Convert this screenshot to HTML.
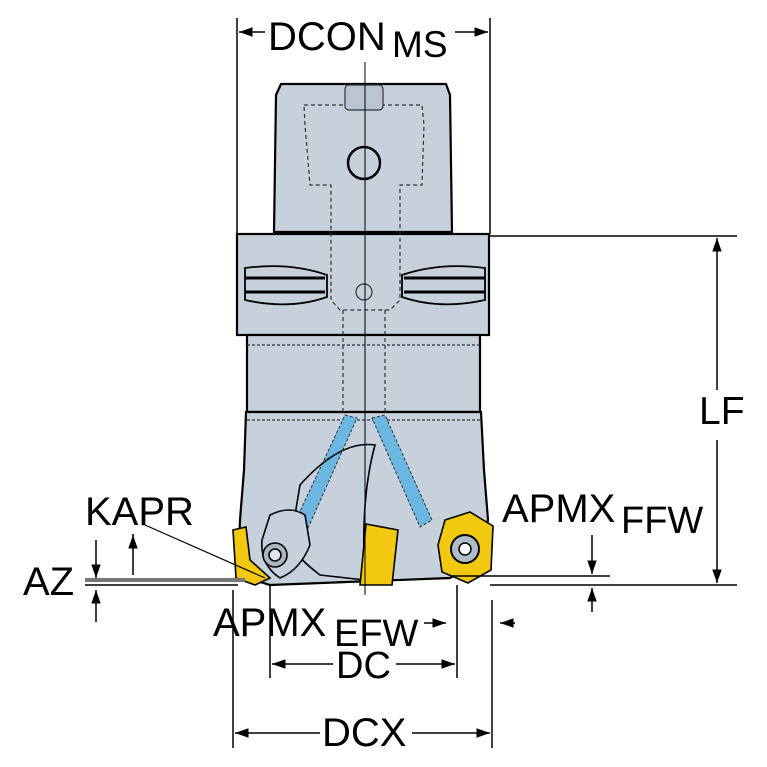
<!DOCTYPE html>
<html><head><meta charset="utf-8"><style>
html,body{margin:0;padding:0;background:#fff}
svg{display:block}
text{font-family:"Liberation Sans",sans-serif;fill:#000}
</style></head><body>
<svg width="767" height="767" viewBox="0 0 767 767" xmlns="http://www.w3.org/2000/svg">
<defs>
<marker id="a" viewBox="0 0 10 10" refX="10" refY="5" markerWidth="9" markerHeight="9" orient="auto-start-reverse"><path d="M0,1.5 L10,5 L0,8.5z" fill="#000"/></marker>
</defs>
<g stroke="#000" stroke-width="2.2">
<path d="M281,84 L446,84 L450,95 L452,232 L274,232 L276,95 Z" fill="#c6d1dc"/>
<rect x="237" y="234" width="252" height="101" fill="#c6d1dc"/>
<rect x="247" y="335" width="233" height="77" fill="#c6d1dc"/>
<path d="M246,412 L481,412 L484,470 L488,520 L480,560 L450,578 L270,585 L238,575 L240,520 L244,470 Z" fill="#c6d1dc"/>
</g>
<g stroke="#333" stroke-width="1.2" fill="none">
<line x1="247" y1="420" x2="481" y2="420" stroke-dasharray="3,2"/>
<line x1="247" y1="345" x2="480" y2="345" stroke-dasharray="3,2"/>
<path d="M304,105 L422,105 L424,125 L422,185 L400,185 L400,300 L390,310 L340,310 L331,300 L331,185 L310,185 L305,125 Z" stroke-dasharray="4,3"/>
<path d="M343,310 L343,415 M385,310 L385,415" stroke-dasharray="4,3"/>
<rect x="345" y="85" width="38" height="25" rx="4" fill="#b9c5d1"/>
<circle cx="364" cy="163" r="16" stroke="#000" stroke-width="2.5"/>
<circle cx="364" cy="292" r="8"/>
</g>
<g stroke="#000" stroke-width="1.8" fill="#c6d1dc">
<path d="M245,268 Q290,262 327,275 L327,297 Q290,310 245,300 Z"/>
<path d="M485,268 Q440,262 402,275 L402,297 Q440,310 485,300 Z"/>
<line x1="245" y1="278" x2="325" y2="278" stroke-width="3"/>
<line x1="245" y1="292" x2="325" y2="292" stroke-width="3"/>
<line x1="404" y1="278" x2="485" y2="278" stroke-width="3"/>
<line x1="404" y1="292" x2="485" y2="292" stroke-width="3"/>
</g>
<g stroke="#333" stroke-width="1" stroke-dasharray="3,2" fill="#6cb6e2">
<path d="M345,415 L357,418 L308,528 L295,522 Z"/>
<path d="M372,418 L385,415 L432,520 L420,527 Z"/>
</g>
<g stroke="#000" stroke-width="1.6" fill="#c6d1dc">
<path d="M300,485 Q340,440 375,445 Q360,500 365,580 L320,575 Q300,560 290,545 Z" fill="none"/>
<path d="M270,515 Q290,505 305,515 L310,545 Q300,570 280,578 Q260,565 262,540 Z"/>
<circle cx="275" cy="555" r="12" fill="#aab6c2"/>
<circle cx="275" cy="555" r="6" fill="#e0e6ec"/>
</g>
<g stroke="#000" stroke-width="1.6" fill="#f2c811">
<path d="M233,530 L246,527 L250,560 L270,578 L255,585 L236,578 Z"/>
<path d="M366,524 L398,530 L392,585 L360,585 Z"/>
<path d="M445,520 L470,512 L493,526 L491,570 L468,583 L442,572 L438,545 Z"/>
</g>
<circle cx="465" cy="549" r="14" fill="#b0bcc8" stroke="#000" stroke-width="2"/>
<circle cx="465" cy="549" r="6" fill="#fff" stroke="#000" stroke-width="1.5"/>
<line x1="365" y1="62" x2="365" y2="595" stroke="#000" stroke-width="1"/>
<g stroke="#000" stroke-width="1.5" fill="none">
<line x1="237" y1="18" x2="237" y2="234"/>
<line x1="490" y1="18" x2="490" y2="234"/>
<line x1="239" y1="32" x2="265" y2="32" marker-start="url(#a)"/>
<line x1="455" y1="32" x2="488" y2="32" marker-end="url(#a)"/>
<line x1="489" y1="236" x2="737" y2="236"/>
<line x1="490" y1="585" x2="737" y2="585"/>
<line x1="717" y1="238" x2="717" y2="390" marker-start="url(#a)"/>
<line x1="717" y1="440" x2="717" y2="583" marker-end="url(#a)"/>
<line x1="450" y1="576" x2="610" y2="576"/>
<line x1="592" y1="535" x2="592" y2="574" marker-end="url(#a)"/>
<line x1="592" y1="612" x2="592" y2="588" marker-end="url(#a)"/>
<line x1="85" y1="585" x2="238" y2="585"/>
<line x1="96" y1="540" x2="96" y2="578" marker-end="url(#a)"/>
<line x1="96" y1="622" x2="96" y2="590" marker-end="url(#a)"/>
<line x1="133" y1="534" x2="133" y2="575"/>
<line x1="133" y1="536" x2="133" y2="535" marker-end="url(#a)"/>
<line x1="145" y1="525" x2="265" y2="578" stroke-width="1.2"/>
<line x1="233" y1="590" x2="233" y2="748"/>
<line x1="492" y1="600" x2="492" y2="748"/>
<line x1="270" y1="585" x2="270" y2="678"/>
<line x1="457" y1="585" x2="457" y2="678"/>
<line x1="272" y1="664" x2="333" y2="664" marker-start="url(#a)"/>
<line x1="396" y1="664" x2="455" y2="664" marker-end="url(#a)"/>
<line x1="235" y1="733" x2="320" y2="733" marker-start="url(#a)"/>
<line x1="412" y1="733" x2="490" y2="733" marker-end="url(#a)"/>
<line x1="424" y1="623" x2="446" y2="623" marker-end="url(#a)"/>
<line x1="515" y1="623" x2="500" y2="623" marker-end="url(#a)"/>
</g>
<line x1="85" y1="580" x2="245" y2="580" stroke="#777" stroke-width="4"/>
<g font-size="40">
<text x="268" y="50">DCON</text>
<text x="392" y="57" font-size="37">MS</text>
<text x="699" y="424" font-size="39">LF</text>
<text x="502" y="522">APMX</text>
<text x="621" y="533" font-size="38">FFW</text>
<text x="85" y="525">KAPR</text>
<text x="23" y="595">AZ</text>
<text x="213" y="636">APMX</text>
<text x="334" y="646" font-size="38">EFW</text>
<text x="336" y="678" font-size="38">DC</text>
<text x="322" y="746">DCX</text>
</g>
</svg>
</body></html>
